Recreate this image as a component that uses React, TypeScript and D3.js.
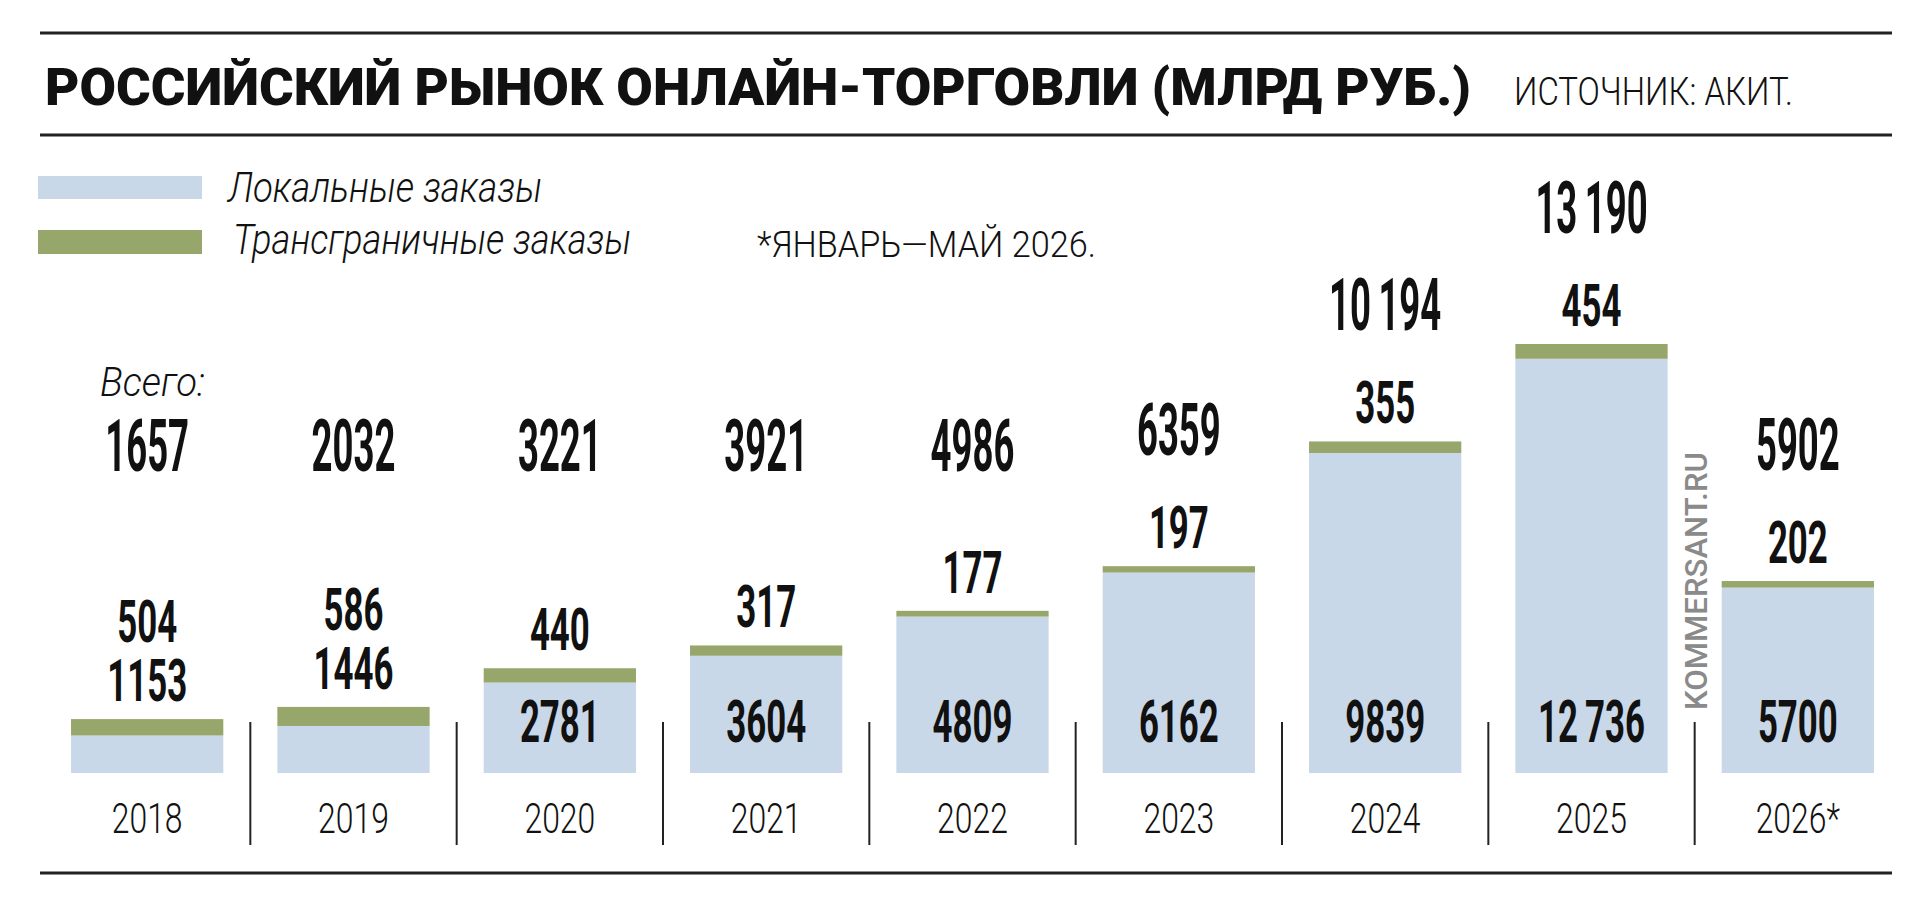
import * as d3 from 'd3'

// Data (billion roubles)
const years = ['2018', '2019', '2020', '2021', '2022', '2023', '2024', '2025', '2026*']
const localOrders = [1153, 1446, 2781, 3604, 4809, 6162, 9839, 12736, 5700]
const crossBorder = [504, 586, 440, 317, 177, 197, 355, 454, 202]
const totals = [1657, 2032, 3221, 3921, 4986, 6359, 10194, 13190, 5902]

const legendLabels = ['Локальные заказы', 'Трансграничные заказы']
const title = 'РОССИЙСКИЙ РЫНОК ОНЛАЙН-ТОРГОВЛИ (МЛРД РУБ.)'
const source = 'ИСТОЧНИК: АКИТ.'
const note = '*ЯНВАРЬ—МАЙ 2026.'

const WIDTH = 1920
const HEIGHT = 905
const FONT = 'Roboto, "Liberation Sans", sans-serif'
const BLUE = '#c9d8e8'
const GREEN = '#97a66a'
const INK = '#111'

const fmt = (v: number) => {
  if (v < 10000) return String(v)
  const s = String(v)
  return s.slice(0, s.length - 3) + '\u2009' + s.slice(-3)
}

// condensed text: horizontal squeeze of a regular font
const Squeezed = ({ x, y, size, sx, weight, children }: any) => (
  <text
    transform={`translate(${x},${y}) scale(${sx},1)`}
    textAnchor="middle"
    fontFamily={FONT}
    fontSize={size}
    fontWeight={weight}
    fill={INK}
  >
    {children}
  </text>
)

export default function App() {
  const x = d3
    .scaleBand()
    .domain(years)
    .range([44, 1901])
    .paddingInner(0.262)
    .paddingOuter(0.131)

  const y = d3.scaleLinear().domain([0, 13190]).range([773, 344])

  const bw = x.bandwidth()
  const gap = x.step() - bw
  const base = y(0)

  const rows = years.map((yr, i) => {
    const cx = (x(yr) || 0) + bw / 2
    const top = y(totals[i])
    const inside = base - y(localOrders[i]) > 70
    const localY = inside ? base - 31 : top - 18
    const crossY = inside ? top - 18 : localY - 59
    const totalY = Math.min(471, crossY - 93)
    return { yr, i, cx, top, inside, localY, crossY, totalY }
  })

  return (
    <div style={{ position: 'absolute', left: 0, top: 0 }}>
      <svg width={WIDTH} height={HEIGHT} style={{ display: 'block', background: '#fff' }}>
        {/* rules */}
        {[33, 135, 873].map(ry => (
          <line key={ry} x1={40} x2={1892} y1={ry} y2={ry} stroke="#222" strokeWidth={3} />
        ))}

        {/* header */}
        <text
          x={45}
          y={105}
          fontFamily={FONT}
          fontSize={52}
          fontWeight={900}
          fill={INK}
          textLength={1426}
          lengthAdjust="spacingAndGlyphs"
        >
          {title}
        </text>
        <text
          x={1514}
          y={105}
          fontFamily={FONT}
          fontSize={39}
          fontWeight={300}
          fill={INK}
          textLength={279}
          lengthAdjust="spacingAndGlyphs"
        >
          {source}
        </text>

        {/* legend */}
        <rect x={38} y={176} width={164} height={23} fill={BLUE} />
        <rect x={38} y={230} width={164} height={24} fill={GREEN} />
        <text
          x={228}
          y={202}
          fontFamily={FONT}
          fontSize={42}
          fontStyle="italic"
          fontWeight={300}
          fill={INK}
          textLength={314}
          lengthAdjust="spacingAndGlyphs"
        >
          {legendLabels[0]}
        </text>
        <text
          x={233}
          y={254}
          fontFamily={FONT}
          fontSize={42}
          fontStyle="italic"
          fontWeight={300}
          fill={INK}
          textLength={398}
          lengthAdjust="spacingAndGlyphs"
        >
          {legendLabels[1]}
        </text>
        <text
          x={757}
          y={257}
          fontFamily={FONT}
          fontSize={37}
          fontWeight={300}
          fill={INK}
          textLength={339}
          lengthAdjust="spacingAndGlyphs"
        >
          {note}
        </text>

        <text
          x={100}
          y={396}
          fontFamily={FONT}
          fontSize={40}
          fontStyle="italic"
          fontWeight={300}
          fill={INK}
          textLength={105}
          lengthAdjust="spacingAndGlyphs"
        >
          Всего:
        </text>

        {/* bars */}
        {rows.map(r => (
          <g key={r.yr}>
            <rect
              x={x(r.yr)}
              y={y(localOrders[r.i])}
              width={bw}
              height={base - y(localOrders[r.i])}
              fill={BLUE}
            />
            <rect
              x={x(r.yr)}
              y={r.top}
              width={bw}
              height={y(localOrders[r.i]) - r.top}
              fill={GREEN}
            />
          </g>
        ))}

        {/* separators between years */}
        {years.slice(1).map(yr => {
          const sx = (x(yr) || 0) - gap / 2
          return <line key={yr} x1={sx} x2={sx} y1={722} y2={845} stroke="#222" strokeWidth={2} />
        })}

        {/* labels */}
        {rows.map(r => (
          <g key={'l' + r.yr}>
            <Squeezed x={r.cx} y={r.localY} size={59} sx={0.59} weight={700}>
              {fmt(localOrders[r.i])}
            </Squeezed>
            <Squeezed x={r.cx} y={r.crossY} size={59} sx={0.59} weight={700}>
              {fmt(crossBorder[r.i])}
            </Squeezed>
            <Squeezed x={r.cx} y={r.totalY} size={73} sx={0.5} weight={700}>
              {fmt(totals[r.i])}
            </Squeezed>
            <Squeezed x={r.cx} y={833} size={42} sx={0.76} weight={300}>
              {r.yr}
            </Squeezed>
          </g>
        ))}

        {/* watermark */}
        <text
          transform="translate(1707,710) rotate(-90)"
          fontFamily={FONT}
          fontSize={32}
          fontWeight={500}
          fill="#8a8a8a"
          textLength={258}
          lengthAdjust="spacingAndGlyphs"
        >
          KOMMERSANT.RU
        </text>
      </svg>
    </div>
  )
}
